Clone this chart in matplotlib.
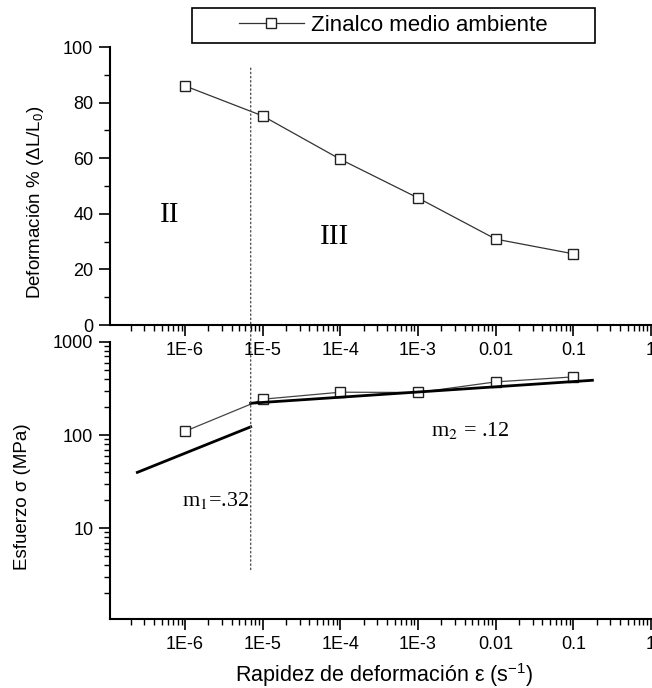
import matplotlib
matplotlib.use("Agg")
import matplotlib.pyplot as plt
from matplotlib.ticker import FixedLocator, FixedFormatter, LogLocator, NullFormatter, MultipleLocator
from matplotlib.patches import Rectangle, ConnectionPatch

# ---------------- data ----------------
rate = [1e-6, 1e-5, 1e-4, 1e-3, 1e-2, 1e-1]
elongation = [86.0, 75.2, 59.6, 45.7, 30.9, 25.6]
stress = [110, 243, 289, 287, 373, 422]
fit1_rate = [2.43e-7, 7.0e-6]
fit1_stress = [39.8, 122.7]
fit2_rate = [7.0e-6, 0.176]
fit2_stress = [220, 388]
boundary_rate = 7.0e-6
xtick_vals = [1e-6, 1e-5, 1e-4, 1e-3, 1e-2, 1e-1, 1]
xtick_labels = ["1E-6", "1E-5", "1E-4", "1E-3", "0.01", "0.1", "1"]
top_yticks = [0, 20, 40, 60, 80, 100]
bot_yticks = [10, 100, 1000]
bot_yticklabels = ["10", "100", "1000"]
series_label = "Zinalco medio ambiente"

plt.rcParams['font.family'] = ['Liberation Sans', 'DejaVu Sans']
plt.rcParams['mathtext.fontset'] = 'custom'
plt.rcParams['mathtext.rm'] = 'Liberation Sans'
plt.rcParams['mathtext.it'] = 'Liberation Sans:italic'
plt.rcParams['mathtext.bf'] = 'Liberation Sans:bold'

W, H = 652, 688
fig = plt.figure(figsize=(W / 100, H / 100), dpi=100)

def box(l, t, r, b):
    return [l / W, 1 - b / H, (r - l) / W, (b - t) / H]

ax1 = fig.add_axes(box(110, 47, 652, 325))
ax2 = fig.add_axes(box(110, 342, 652, 619))

xlim = (1.08e-7, 1.03)
tick_fs = 13
spine_lw = 1.5

for ax in (ax1, ax2):
    ax.set_xscale('log')
    ax.set_xlim(*xlim)
    for s in ('top', 'right'):
        ax.spines[s].set_visible(False)
    for s in ('left', 'bottom'):
        ax.spines[s].set_linewidth(spine_lw)
    ax.xaxis.set_major_locator(FixedLocator(xtick_vals))
    ax.xaxis.set_major_formatter(FixedFormatter(xtick_labels))
    ax.xaxis.set_minor_locator(LogLocator(base=10, subs=range(2, 10), numticks=20))
    ax.xaxis.set_minor_formatter(NullFormatter())
    ax.tick_params(axis='both', which='major', direction='out', length=8, width=1.2,
                   labelsize=tick_fs, pad=4)
    ax.tick_params(axis='both', which='minor', direction='out', length=4.5, width=1.0)
    ax.set_facecolor('none')

# ---- top panel ----
ax1.set_ylim(0, 100)
ax1.yaxis.set_major_locator(FixedLocator(top_yticks))
ax1.yaxis.set_minor_locator(MultipleLocator(10))
line, = ax1.plot(rate, elongation, color='#333333', lw=0.9, marker='s', ms=7.5,
                 mfc='white', mec='#222222', mew=1.0, label=series_label)

ax1.text(6.4e-7, 39.6, "II", fontsize=21, family='Liberation Serif', ha='center', va='center')
ax1.text(8.5e-5, 31.7, "III", fontsize=21, family='Liberation Serif', ha='center', va='center')

ax1.text(-0.138, 0.44, r"Deformación % (ΔL/L$_0$)", transform=ax1.transAxes, rotation=90,
         ha='center', va='center', rotation_mode='anchor', fontsize=13.5)

# ---- bottom panel ----
ax2.set_yscale('log')
ax2.set_ylim(1.06, 1000)
ax2.yaxis.set_major_locator(FixedLocator(bot_yticks))
ax2.yaxis.set_major_formatter(FixedFormatter(bot_yticklabels))
ax2.yaxis.set_minor_locator(LogLocator(base=10, subs=range(2, 10), numticks=20))
ax2.yaxis.set_minor_formatter(NullFormatter())

ax2.plot(rate, stress, color='#444444', lw=0.9, marker='s', ms=7.5,
         mfc='white', mec='#222222', mew=1.0, zorder=3)
ax2.plot(fit1_rate, fit1_stress, color='black', lw=2.0, zorder=4)
ax2.plot(fit2_rate, fit2_stress, color='black', lw=2.0, zorder=4)

ax2.text(2.5e-6, 20.1, r"m$_1$=.32", fontsize=16, family='Liberation Serif',
         math_fontfamily='stix', ha='center', va='center')
ax2.text(4.66e-3, 113, r"m$_2$ = .12", fontsize=16, family='Liberation Serif',
         math_fontfamily='stix', ha='center', va='center')

ax2.text(-0.162, 0.44, "Esfuerzo σ (MPa)", transform=ax2.transAxes, rotation=90,
         ha='center', va='center', rotation_mode='anchor', fontsize=13.5)

fig.text(384 / W, 1 - 675 / H, r"Rapidez de deformación ε (s$^{-1}$)",
         ha='center', va='center', fontsize=15.5)

# dotted regime boundary spanning both panels
con = ConnectionPatch(xyA=(boundary_rate, 92.4), coordsA=ax1.transData,
                      xyB=(boundary_rate, 3.55), coordsB=ax2.transData,
                      linestyle=(0, (1, 2)), color='#555555', lw=1.0, zorder=1)
fig.add_artist(con)

# legend
leg = fig.legend(handles=[line], loc='center', bbox_to_anchor=(393.5 / W, 1 - 25.5 / H),
                 frameon=False, fontsize=16, handlelength=2.9, handletextpad=0.35,
                 borderpad=0.2)
fig.add_artist(Rectangle((192 / W, 1 - 43 / H), 403 / W, 35 / H, transform=fig.transFigure,
                         fill=False, edgecolor='black', lw=1.2))

fig.savefig("out.png", dpi=100)
